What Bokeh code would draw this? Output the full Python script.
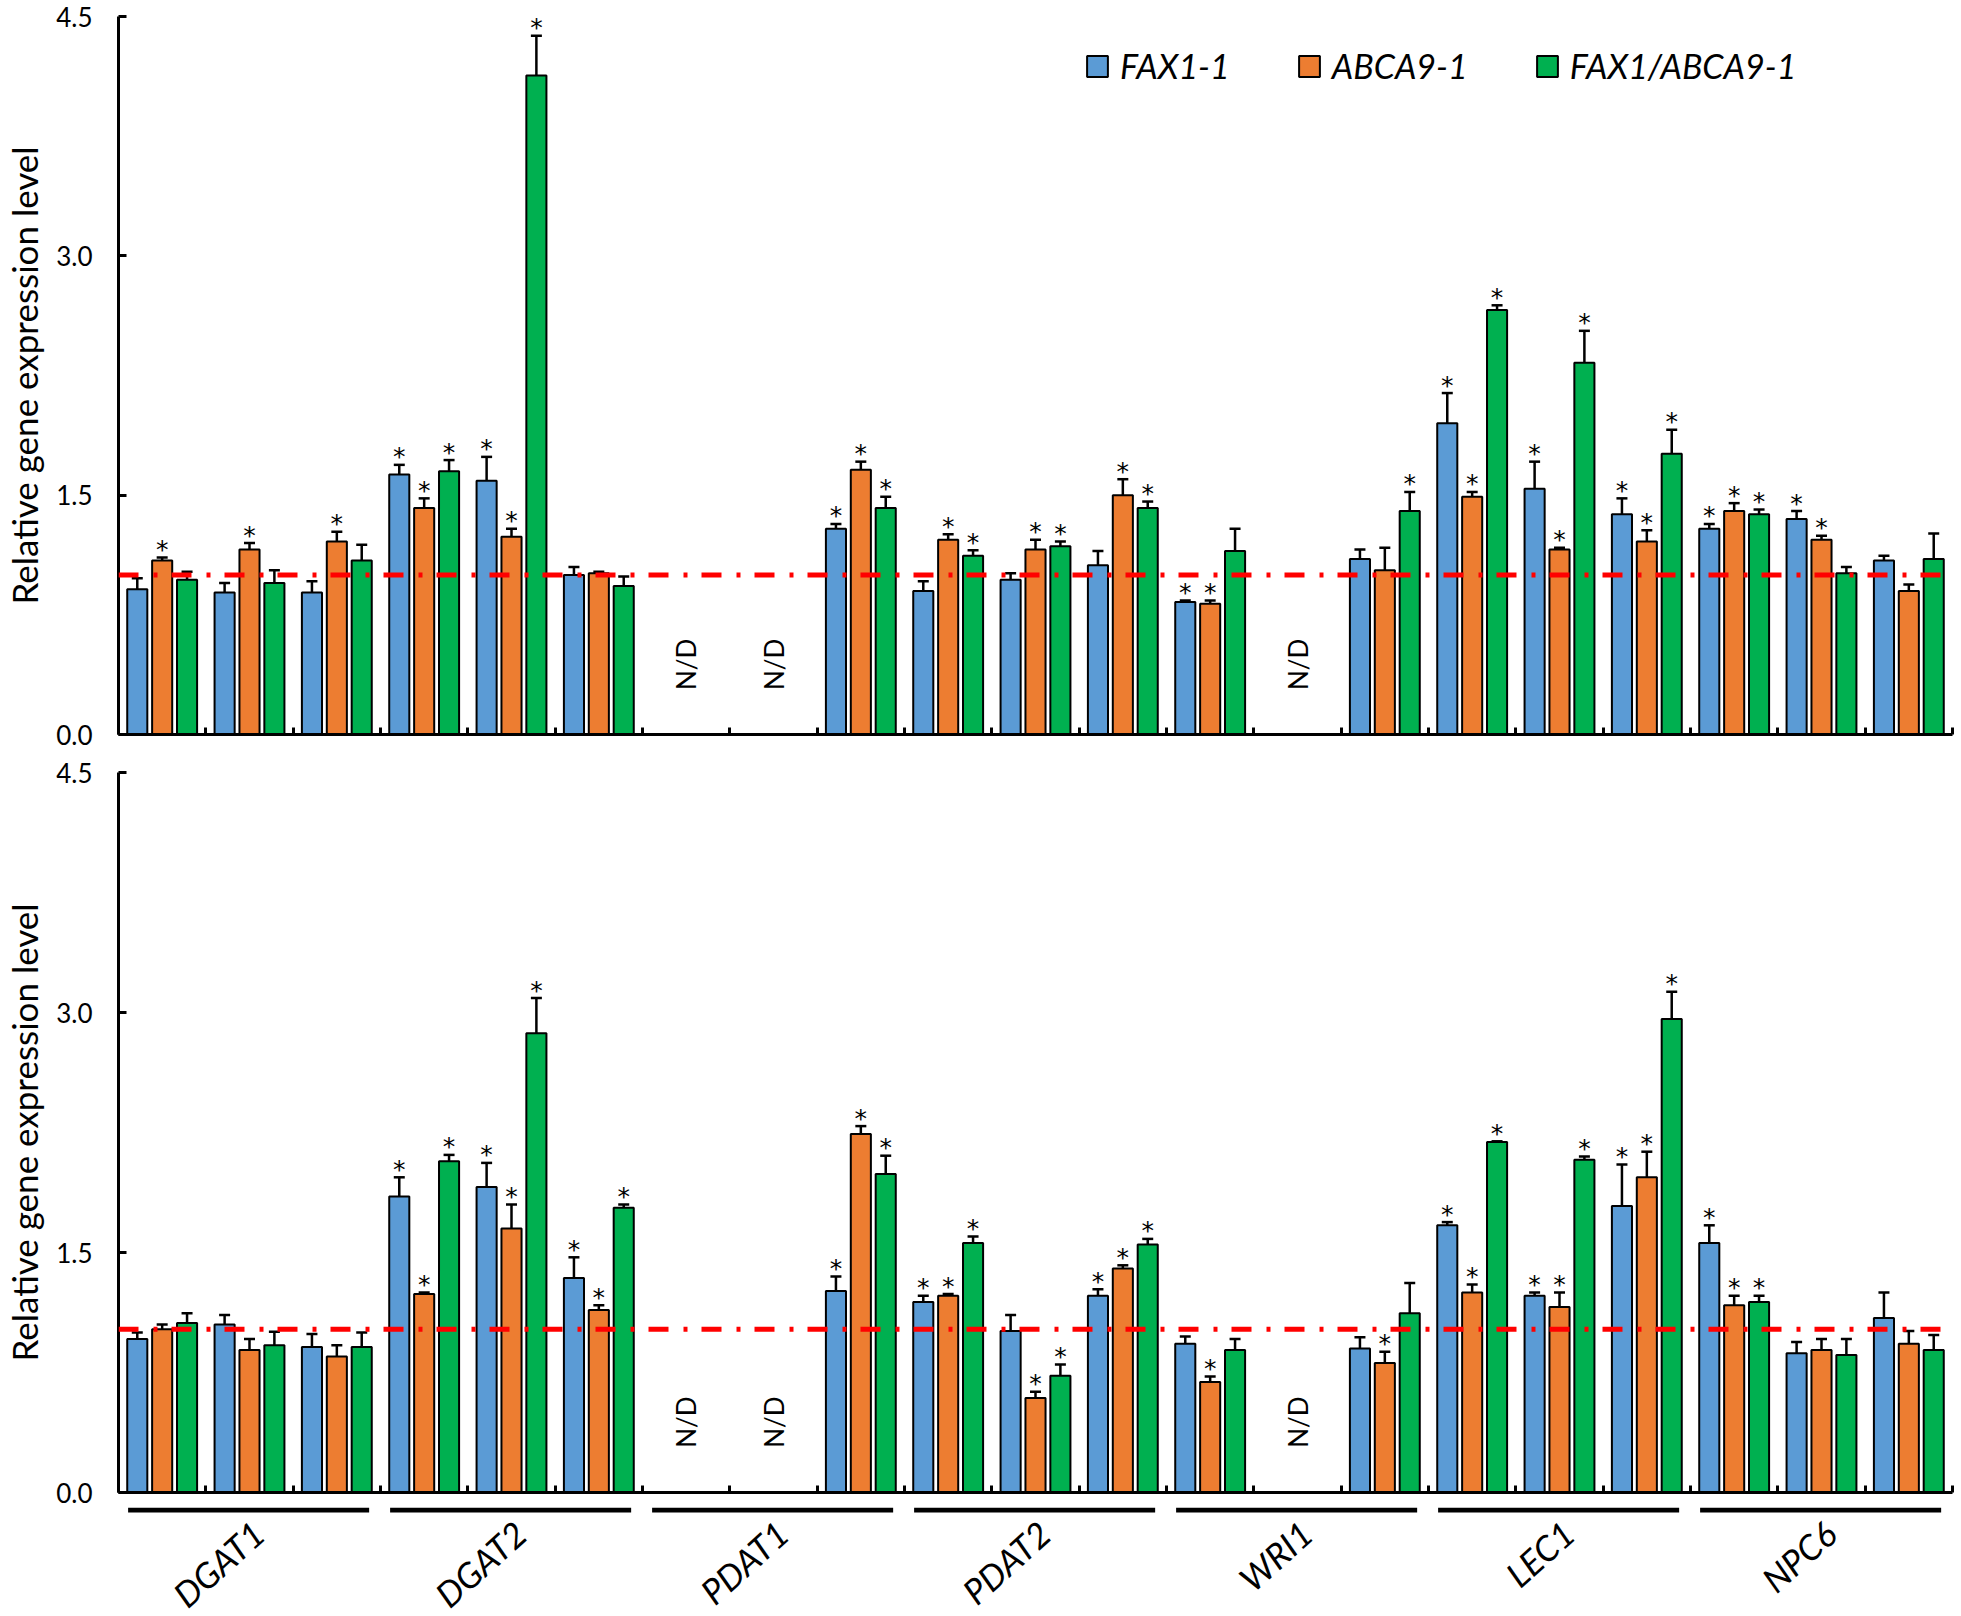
import math
from bokeh.plotting import figure
from bokeh.models import (Range1d, FixedTicker, PrintfTickFormatter, Span, Whisker, TeeHead,
                          ColumnDataSource, Legend, LegendItem)
from bokeh.layouts import column
from bokeh.embed import file_html
from bokeh.resources import INLINE
from bokeh.core.properties import value

# ---------------- data ----------------
genes = ["DGAT1", "DGAT2", "PDAT1", "PDAT2", "WRI1", "LEC1", "NPC6"]
series = ["FAX1-1", "ABCA9-1", "FAX1/ABCA9-1"]
colors = ["#5B9BD5", "#ED7D31", "#00B050"]
y_ticks = [0.0, 1.5, 3.0, 4.5]

# top panel (21 groups = 7 genes x 3 stages; None = N/D)
blue_top = [0.91, 0.89, 0.89, 1.63, 1.59, 1.00, None, None, 1.29, 0.90, 0.97, 1.06, 0.83, None, 1.10, 1.95, 1.54, 1.38, 1.29, 1.35, 1.09]
blue_top_err = [0.07, 0.06, 0.07, 0.06, 0.15, 0.05, None, None, 0.03, 0.06, 0.04, 0.09, 0.01, None, 0.06, 0.19, 0.17, 0.10, 0.03, 0.05, 0.03]
orange_top = [1.09, 1.16, 1.21, 1.42, 1.24, 1.01, None, None, 1.66, 1.22, 1.16, 1.50, 0.82, None, 1.03, 1.49, 1.16, 1.21, 1.40, 1.22, 0.90]
orange_top_err = [0.02, 0.04, 0.06, 0.06, 0.05, 0.01, None, None, 0.05, 0.035, 0.06, 0.10, 0.02, None, 0.14, 0.03, 0.01, 0.07, 0.05, 0.025, 0.04]
green_top = [0.97, 0.95, 1.09, 1.65, 4.13, 0.93, None, None, 1.42, 1.12, 1.18, 1.42, 1.15, None, 1.40, 2.66, 2.33, 1.76, 1.38, 1.01, 1.10]
green_top_err = [0.05, 0.08, 0.10, 0.07, 0.25, 0.06, None, None, 0.07, 0.035, 0.03, 0.04, 0.14, None, 0.12, 0.03, 0.20, 0.15, 0.03, 0.04, 0.16]
blue_top_star = [0, 0, 0, 1, 1, 0, 0, 0, 1, 0, 0, 0, 1, 0, 0, 1, 1, 1, 1, 1, 0]
orange_top_star = [1, 1, 1, 1, 1, 0, 0, 0, 1, 1, 1, 1, 1, 0, 0, 1, 1, 1, 1, 1, 0]
green_top_star = [0, 0, 0, 1, 1, 0, 0, 0, 1, 1, 1, 1, 0, 0, 1, 1, 1, 1, 1, 0, 0]
ref_top = 1.0

# bottom panel
blue_bot = [0.96, 1.05, 0.91, 1.85, 1.91, 1.34, None, None, 1.26, 1.19, 1.01, 1.23, 0.93, None, 0.90, 1.67, 1.23, 1.79, 1.56, 0.87, 1.09]
blue_bot_err = [0.04, 0.06, 0.08, 0.12, 0.15, 0.13, None, None, 0.09, 0.04, 0.10, 0.04, 0.045, None, 0.07, 0.02, 0.02, 0.26, 0.11, 0.07, 0.16]
orange_bot = [1.02, 0.89, 0.85, 1.24, 1.65, 1.14, None, None, 2.24, 1.23, 0.59, 1.40, 0.69, None, 0.81, 1.25, 1.16, 1.97, 1.17, 0.89, 0.93]
orange_bot_err = [0.03, 0.07, 0.07, 0.01, 0.15, 0.03, None, None, 0.05, 0.01, 0.04, 0.02, 0.035, None, 0.07, 0.05, 0.09, 0.16, 0.06, 0.07, 0.08]
green_bot = [1.06, 0.92, 0.91, 2.07, 2.87, 1.78, None, None, 1.99, 1.56, 0.73, 1.55, 0.89, None, 1.12, 2.19, 2.08, 2.96, 1.19, 0.86, 0.89]
green_bot_err = [0.06, 0.085, 0.09, 0.04, 0.22, 0.02, None, None, 0.115, 0.04, 0.07, 0.035, 0.07, None, 0.19, 0.005, 0.02, 0.17, 0.04, 0.10, 0.095]
blue_bot_star = [0, 0, 0, 1, 1, 1, 0, 0, 1, 1, 0, 1, 0, 0, 0, 1, 1, 1, 1, 0, 0]
orange_bot_star = [0, 0, 0, 1, 1, 1, 0, 0, 1, 1, 1, 1, 1, 0, 1, 1, 1, 1, 1, 0, 0]
green_bot_star = [0, 0, 0, 1, 1, 1, 0, 0, 1, 1, 1, 1, 0, 0, 0, 1, 1, 1, 1, 0, 0]
ref_bot = 1.02

# ---------------- style ----------------
FONT = "Lato"
N_GROUPS = len(blue_top)
OFFSETS = [-0.285, 0.0, 0.285]
BAR_W = 0.23
STAR_GAP = 0.05
ND_Y = 0.44
FIG_W = 1961
LEFT = 115
RIGHT = 9


def make_panel(vals, errs, stars, ref_level, frame_h, top_border, bottom_border, with_legend=False):
    p = figure(width=FIG_W, height=top_border + frame_h + bottom_border,
               x_range=Range1d(0, N_GROUPS), y_range=Range1d(0, 4.5),
               output_backend="svg", toolbar_location=None,
               min_border_left=LEFT, min_border_right=RIGHT,
               min_border_top=top_border, min_border_bottom=bottom_border)
    p.xgrid.visible = False
    p.ygrid.visible = False
    p.outline_line_color = None
    p.background_fill_color = None
    p.border_fill_color = None

    # y axis
    ya = p.yaxis[0]
    ya.ticker = FixedTicker(ticks=y_ticks)
    ya.formatter = PrintfTickFormatter(format="%.1f")
    ya.axis_line_width = 3
    ya.major_tick_line_width = 3
    ya.major_tick_in = 8
    ya.major_tick_out = 0
    ya.minor_tick_line_color = None
    ya.major_label_text_font = FONT
    ya.major_label_text_font_size = "26px"
    ya.major_label_text_color = "black"
    ya.major_label_standoff = 26
    ya.axis_label = "Relative gene expression level"
    ya.axis_label_text_font = FONT
    ya.axis_label_text_font_size = "35px"
    ya.axis_label_text_font_style = "normal"
    ya.axis_label_text_color = "black"
    ya.axis_label_standoff = 8

    # x axis: ticks at group boundaries, no labels
    xa = p.xaxis[0]
    xa.ticker = FixedTicker(ticks=list(range(N_GROUPS + 1)))
    xa.major_label_overrides = {i: "" for i in range(N_GROUPS + 1)}
    xa.axis_line_width = 3
    xa.major_tick_line_width = 3
    xa.major_tick_in = 7
    xa.major_tick_out = 0
    xa.minor_tick_line_color = None
    xa.major_label_text_font_size = "8px"
    xa.major_label_standoff = 0

    legend_items = []
    nd_x = []
    for s in range(3):
        xs, tops, ups, lows, sx, sy = [], [], [], [], [], []
        for g in range(N_GROUPS):
            v = vals[s][g]
            if v is None:
                if s == 0:
                    nd_x.append(g + 0.5)
                continue
            x = g + 0.5 + OFFSETS[s]
            e = errs[s][g]
            xs.append(x)
            tops.append(v)
            ups.append(v + e)
            lows.append(v - e)
            if stars[s][g]:
                sx.append(x)
                sy.append(v + e + STAR_GAP)
        src = ColumnDataSource(dict(x=xs, top=tops, upper=ups, lower=lows))
        r = p.vbar(x="x", top="top", width=BAR_W, bottom=0, source=src,
                   fill_color=colors[s], line_color="black", line_width=2)
        legend_items.append(LegendItem(label=series[s], renderers=[r]))
        p.add_layout(Whisker(base="x", upper="upper", lower="lower", source=src,
                             line_color="black", line_width=2.5,
                             upper_head=TeeHead(size=11, line_width=2.5, line_color="black"),
                             lower_head=TeeHead(size=11, line_width=2.5, line_color="black")))
        p.text(x=sx, y=sy, text=["*"] * len(sx), text_font=value("DejaVu Sans"),
               text_font_size="25px", text_align="center", text_baseline="alphabetic",
               text_color="black")

    p.text(x=nd_x, y=[ND_Y] * len(nd_x), text=["N/D"] * len(nd_x), angle=math.pi / 2,
           text_font=value(FONT), text_font_size="26px", text_align="center",
           text_baseline="middle", text_color="black")

    p.add_layout(Span(location=ref_level, dimension="width", line_color="#FF0000",
                      line_width=5, line_dash="20 15 4 14"))

    if with_legend:
        lg = Legend(items=legend_items, orientation="horizontal", location=(966, 648),
                    glyph_width=26, glyph_height=26, label_standoff=10, spacing=66,
                    padding=0, margin=0, border_line_color=None,
                    background_fill_alpha=0, label_text_font=FONT,
                    label_text_font_style="italic", label_text_font_size="34px",
                    label_text_color="black")
        p.add_layout(lg)
    return p


p1 = make_panel([blue_top, orange_top, green_top],
                [blue_top_err, orange_top_err, green_top_err],
                [blue_top_star, orange_top_star, green_top_star],
                ref_top, 718, 16, 16, with_legend=True)
p2 = make_panel([blue_bot, orange_bot, green_bot],
                [blue_bot_err, orange_bot_err, green_bot_err],
                [blue_bot_star, orange_bot_star, green_bot_star],
                ref_bot, 720, 22, 15)

# gene strip below
STRIP_H = 109
p3 = figure(width=FIG_W, height=STRIP_H, x_range=p1.x_range, y_range=Range1d(STRIP_H, 0),
            output_backend="svg", toolbar_location=None,
            min_border_left=LEFT, min_border_right=RIGHT, min_border_top=0, min_border_bottom=0)
p3.axis.visible = False
p3.xgrid.visible = False
p3.ygrid.visible = False
p3.outline_line_color = None
p3.background_fill_color = None
p3.border_fill_color = None

g_start = [3 * i + 0.11 for i in range(len(genes))]
g_end = [3 * i + 2.87 for i in range(len(genes))]
p3.segment(x0=g_start, y0=[2.5] * len(genes), x1=g_end, y1=[2.5] * len(genes),
           line_color="black", line_width=5)
p3.text(x=[3 * i + 1.5 + 0.1 for i in range(len(genes))], y=[20] * len(genes), text=genes,
        angle=math.radians(42), text_font=value(FONT), text_font_style="italic",
        text_font_size="35px", text_align="right", text_baseline="middle", text_color="black")

layout = column(p1, p2, p3)
open("out.html", "w").write(file_html(layout, INLINE))
